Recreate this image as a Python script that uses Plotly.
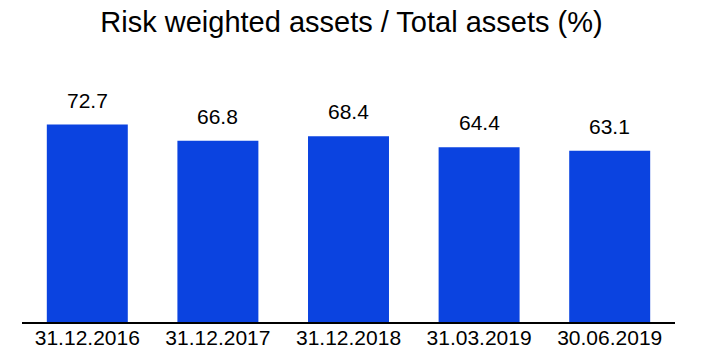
import plotly.graph_objects as go

dates = ["31.12.2016", "31.12.2017", "31.12.2018", "31.03.2019", "30.06.2019"]
rwa_ratio = [72.7, 66.8, 68.4, 64.4, 63.1]

FONT = "Liberation Sans, Arial, sans-serif"

fig = go.Figure(
    go.Bar(
        x=dates,
        y=rwa_ratio,
        marker=dict(color="#0B43E0", line=dict(width=0)),
        hoverinfo="x+y",
    )
)

# value labels floating above each bar
for d, v in zip(dates, rwa_ratio):
    fig.add_annotation(
        x=d,
        y=v,
        text=f"{v:.1f}",
        showarrow=False,
        yanchor="bottom",
        yshift=11,
        font=dict(size=21, color="black", family=FONT),
    )

fig.update_layout(
    width=703,
    height=351,
    margin=dict(l=22, r=28, t=60, b=29),
    paper_bgcolor="white",
    plot_bgcolor="white",
    bargap=0.38,
    showlegend=False,
    font=dict(family=FONT, color="black"),
    title=dict(
        text="Risk weighted assets / Total assets (%)",
        x=0.5,
        xanchor="center",
        y=1 - 22 / 351,
        yanchor="middle",
        font=dict(size=29, color="black"),
    ),
)

fig.update_xaxes(
    showline=True,
    linecolor="black",
    linewidth=1.5,
    ticks="",
    showgrid=False,
    automargin=False,
    ticklabelstandoff=-4,
    tickfont=dict(size=21, color="black"),
)
fig.update_yaxes(
    range=[0, 96.5],
    visible=False,
    showgrid=False,
    zeroline=False,
)

fig.write_html("out.html")
